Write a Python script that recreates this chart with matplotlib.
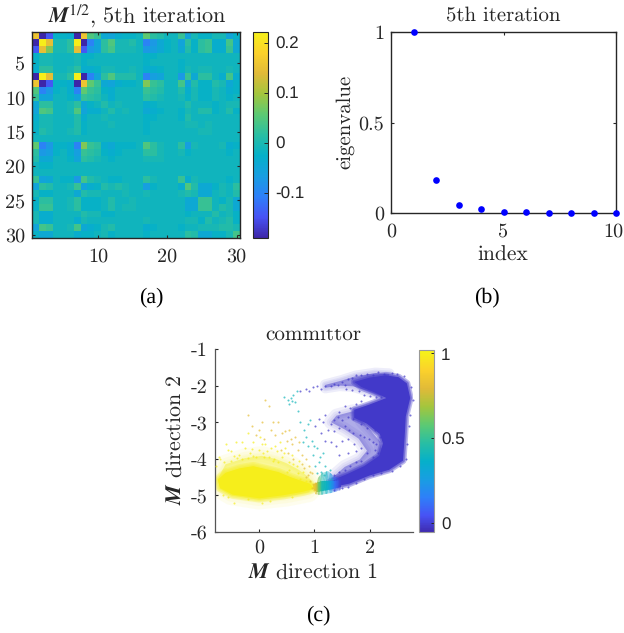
import matplotlib
matplotlib.use("Agg")
import matplotlib.pyplot as plt
import numpy as np
from matplotlib.colors import LinearSegmentedColormap, Normalize
from matplotlib.patches import Polygon
from matplotlib.transforms import Bbox, ScaledTranslation

W, H = 624, 633

plt.rcParams['font.family'] = ['cmr10', 'DejaVu Serif']
plt.rcParams['mathtext.fontset'] = 'stix'
plt.rcParams['axes.unicode_minus'] = False
plt.rcParams['text.hinting'] = 'no_hinting'
plt.rcParams['text.hinting_factor'] = 1

# upper triangle of the matrix in hundredths, one list per row
m_rows = [
    [17,-18,-13,-1,-1,-2,-18,17,6,4,-3,-4,-2,-1,-1,0,7,3,2,0,0,4,-4,1,-1,-1,1,1,-4,-1],
    [23,16,1,1,3,23,-18,-9,-4,3,6,1,1,2,0,-9,-6,-3,-1,0,-4,3,-1,3,4,-2,-2,5,-3],
    [9,1,1,3,16,-13,-6,-4,3,5,1,1,1,0,-6,-5,-3,-1,0,-3,2,-1,3,4,-2,-2,4,-3],
    [0,0,0,1,-1,-1,0,0,0,0,0,0,0,-1,-1,0,0,0,0,0,0,0,0,0,0,0,0],
    [0,0,1,-1,0,0,0,0,0,0,0,0,-1,0,0,0,0,-1,0,0,0,0,0,0,0,0],
    [1,3,-2,-2,-1,1,1,0,0,1,0,-2,-2,-1,0,0,-1,1,0,1,1,0,0,1,0],
    [23,-18,-9,-4,3,6,2,2,2,0,-9,-5,-4,0,0,-6,4,-3,3,3,0,-2,5,-2],
    [17,7,4,-3,-4,-2,-1,-1,0,9,4,3,0,0,5,-4,2,-1,-1,2,1,-3,-1],
    [4,3,-1,-2,0,0,0,0,4,3,2,0,0,2,-2,1,-1,-1,1,0,-2,-1],
    [2,0,-2,0,0,0,0,3,2,1,0,0,1,-1,1,-1,-1,1,0,-1,0],
    [2,0,1,0,0,0,-2,-1,0,0,0,0,2,0,0,0,-1,0,1,1],
    [2,0,1,0,0,-3,-2,-1,0,0,-1,1,0,2,2,-1,0,2,-1],
    [0,0,0,0,-1,-1,0,0,0,-1,2,0,0,0,0,0,0,0],
    [0,0,0,-1,0,0,0,0,0,1,1,0,1,0,0,0,0],
    [0,0,-1,0,0,0,0,0,0,0,1,1,0,0,0,0],
    [0,0,0,0,0,0,0,0,0,0,0,0,0,0,0],
    [6,3,1,0,0,3,-5,1,0,0,0,1,-2,-1],
    [3,1,0,0,1,-1,0,0,0,0,0,-1,0],
    [1,0,0,0,0,0,0,0,0,0,0,0],
    [0,0,0,0,0,0,0,0,0,0,0],
    [0,0,0,0,0,0,0,0,0,0],
    [4,-2,1,0,0,0,0,-1,0],
    [6,2,-3,-3,-1,1,0,3],
    [1,-3,-3,0,1,0,2],
    [4,4,0,-1,1,-3],
    [4,0,2,1,-3],
    [2,0,1,-1],
    [1,2,-1],
    [2,1],
    [5],
]
m_background = -0.012

index = [1, 2, 3, 4, 5, 6, 7, 8, 9, 10]
eigenvalue = [1.0, 0.18, 0.045, 0.02, 0.007, 0.003, 0.001, 0.0006, 0.0003, 0.0001]

# outlines of the solid parts of the cloud in panel c
yellow_x = [-0.74,-0.70,-0.47,0.01,0.43,0.80,1.00,0.92,0.61,0.35,0.07,-0.10,-0.35,-0.60]
yellow_y = [-4.57,-4.80,-4.98,-5.08,-5.00,-4.90,-4.82,-4.68,-4.52,-4.36,-4.26,-4.20,-4.26,-4.38]
purple_x = [1.30,1.63,1.99,2.35,2.60,2.63,2.65,2.73,2.67,2.52,2.29,2.00,1.72,1.85,2.08,2.30,1.99,1.72,1.72,1.95,2.18,2.24,2.17,1.90,1.62,1.40,1.25]
purple_y = [-4.78,-4.68,-4.46,-4.30,-4.05,-3.39,-2.84,-2.34,-1.94,-1.77,-1.72,-1.78,-1.90,-2.04,-2.18,-2.34,-2.52,-2.66,-2.88,-3.04,-3.32,-3.58,-3.92,-4.20,-4.40,-4.54,-4.66]

# thinner haze around the solid parts
haze_yellow_x = [-0.74,-0.70,-0.5,0.0,0.5,0.9,1.0,0.9,0.72,0.5,0.3,0.05,-0.25,-0.6]
haze_yellow_y = [-4.55,-4.82,-5.0,-5.12,-5.04,-4.92,-4.75,-4.5,-4.3,-4.12,-4.0,-3.92,-3.98,-4.15]
haze_lobe_x = [1.7,1.4,1.3,1.55,1.8,1.95,1.82,1.55,1.3,1.5,1.75,2.02,2.2,2.2,2.0,1.85,1.8]
haze_lobe_y = [-2.7,-2.82,-3.0,-3.2,-3.45,-3.78,-4.02,-4.22,-4.55,-4.58,-4.42,-4.22,-3.92,-3.55,-3.2,-2.95,-2.75]
haze_arc_x = [1.2,1.5,1.75,2.1,2.35,2.35,2.2,1.95,1.7,1.45,1.2]
haze_arc_y = [-1.98,-1.86,-1.74,-1.66,-1.68,-1.9,-2.28,-2.14,-2.02,-2.0,-2.06]

# loose points (x, y), grouped by committor value
sparse_yellow = [(-0.6,-3.6),(-0.5,-3.8),(-0.42,-3.55),(-0.35,-3.9),(-0.25,-3.7),(-0.2,-3.3),(-0.15,-3.85),(-0.1,-3.55),
    (-0.05,-3.95),(0.0,-3.75),(0.02,-3.4),(0.08,-3.85),(0.12,-3.6),(0.18,-3.95),(0.22,-3.7),(0.28,-4.0),(0.32,-3.8),(0.38,-3.55),
    (0.42,-3.95),(0.48,-3.7),(0.55,-4.1),(0.6,-3.9),(0.68,-4.2),(0.72,-4.05),(0.8,-4.35),(-0.7,-4.0),(-0.62,-4.1),(-0.72,-3.95),
    (-0.5,-4.05),(-0.4,-3.98),(-0.3,-4.0),(-0.2,-3.98),(-0.1,-3.92),(0.1,-3.95),(0.25,-4.05),(0.5,-4.35),(0.55,-4.3),(0.7,-4.4),
    (-0.78,-4.2),(-0.45,-5.2),(-0.2,-5.1),(0.2,-5.15),(0.6,-5.05),(-0.55,-5.05),(0.75,-4.55),(0.85,-4.6),(-0.65,-5.0),(0.05,-5.2),
    (-0.55,-3.75),(-0.3,-3.55),(-0.12,-3.72),(0.05,-3.6),(0.15,-3.78),(0.3,-3.65),(0.45,-3.85),(0.62,-4.15),(0.35,-4.1),(-0.45,-3.92)]
sparse_orange = [(-0.2,-2.8),(-0.12,-3.1),(0.0,-3.2),(0.05,-3.0),(0.12,-2.4),(0.18,-2.55),(0.22,-3.2),(0.3,-3.35),(0.35,-3.0),
    (0.42,-3.3),(0.5,-3.5),(0.55,-3.2),(0.6,-3.6),(0.65,-3.4),(0.7,-3.75),(0.78,-3.9),(0.85,-4.0),(0.9,-4.2),(0.95,-4.4),
    (0.4,-3.75),(0.52,-3.85),(0.62,-4.0),(0.82,-4.25),(0.88,-4.45),(0.92,-4.6),(0.98,-4.7),(1.0,-4.85),(0.95,-4.8),(1.02,-4.65),
    (-0.05,-3.35),(0.1,-3.45),(0.25,-3.0),(0.48,-3.25),(0.58,-3.45),(0.72,-3.55),(0.78,-4.15),(0.92,-4.35),(0.85,-4.5)]
sparse_cyan = [(0.45,-2.3),(0.52,-2.4),(0.58,-2.35),(0.62,-2.25),(0.65,-2.45),(0.7,-2.7),(0.75,-3.0),(0.82,-3.2),(0.85,-3.4),
    (0.8,-3.55),(0.88,-3.65),(0.95,-3.5),(1.05,-3.7),(1.1,-3.95),(1.08,-4.1),(0.98,-3.9),(1.15,-3.85),(1.2,-4.2),(1.12,-4.35),
    (1.05,-4.4),(1.18,-4.45),(1.28,-4.3),(1.3,-4.55),(0.92,-2.95),(0.68,-2.15),(0.55,-2.5),(0.88,-3.05),(1.0,-3.65),(1.02,-4.2),(0.6,-2.42)]
sparse_purple = [(0.75,-2.15),(0.85,-2.1),(0.9,-2.15),(0.98,-2.05),(1.05,-2.0),(1.12,-2.08),(1.2,-2.0),(1.3,-2.02),(1.35,-1.95),(1.42,-1.98),
    (1.5,-1.9),(1.55,-1.98),(1.6,-1.82),(1.68,-1.78),(1.75,-1.72),(1.85,-1.72),(1.95,-1.68),(2.05,-1.72),(2.15,-1.62),(2.25,-1.67),(2.4,-1.66),(2.5,-1.68),(2.62,-1.75),
    (1.58,-2.1),(1.68,-2.12),(1.8,-2.15),(1.9,-2.25),(2.0,-2.28),(2.12,-2.3),(2.2,-2.3),(2.25,-2.38),
    (1.5,-2.95),(1.42,-2.85),(1.35,-2.95),(1.3,-3.05),(1.2,-2.8),(1.15,-3.0),(1.08,-2.9),(1.02,-3.1),(1.25,-3.2),(1.35,-3.25),(1.45,-3.15),(1.55,-3.1),(1.62,-3.2),(1.7,-3.3),
    (1.82,-3.35),(1.9,-3.4),(1.98,-3.45),(2.05,-3.55),(2.12,-3.6),(2.1,-3.75),(2.15,-3.85),(2.05,-3.95),(1.95,-3.85),(1.85,-4.05),(1.75,-4.1),(1.65,-4.2),(1.55,-4.3),
    (1.45,-4.35),(1.35,-4.45),(1.3,-3.55),(1.4,-3.65),(1.5,-3.5),(1.6,-3.45),(1.72,-3.6),(1.85,-3.7),(1.2,-3.5),(1.12,-3.3),(1.45,-3.9),(1.6,-3.85),(1.75,-3.8),
    (1.55,-2.55),(1.65,-2.62),(1.75,-2.5),(1.85,-2.42),(1.45,-2.72),(1.6,-2.85),(1.7,-2.92),(1.85,-3.05),(1.95,-3.15),(2.1,-3.2),(2.18,-3.4),(2.22,-3.7),
    (1.35,-4.85),(1.5,-4.8),(1.6,-4.78),(1.75,-4.65),(1.9,-4.55),(2.05,-4.45),(2.2,-4.38),(2.4,-4.32),(2.55,-4.2),(2.66,-4.0),(2.68,-3.6),(2.7,-3.1),(2.72,-2.8),(2.78,-2.4),(2.75,-2.05)]

# colour change across the neck of the cloud
neck_x = [0.95, 1.03, 1.08, 1.14, 1.22, 1.30, 1.38, 1.48]
neck_q = [0.98, 0.82, 0.62, 0.45, 0.40, 0.28, 0.12, 0.0]
neck_core_x = [0.97,1.05,1.25,1.48,1.48,1.38,1.25,1.14,1.03,0.97]
neck_core_y = [-4.82,-4.9,-4.86,-4.76,-4.58,-4.62,-4.6,-4.62,-4.66,-4.72]
neck_top_x = [1.02,1.1,1.3,1.48,1.48,1.38,1.25,1.14,1.06]
neck_top_y = [-4.96,-5.0,-4.94,-4.84,-4.52,-4.5,-4.32,-4.38,-4.52]

q_yellow, q_orange, q_cyan, q_purple = 1.01, 0.82, 0.42, 0.0

cbar_a_ticks = [-0.1, 0, 0.1, 0.2]
cbar_a_labels = ['-0.1', '0', '0.1', '0.2']
cbar_c_ticks = [0, 0.5, 1]
cbar_c_labels = ['0', '0.5', '1']

# MATLAB parula, by hand
parula = LinearSegmentedColormap.from_list('parula', [
    (0.0, (0.242, 0.150, 0.660)), (0.1, (0.281, 0.323, 0.958)), (0.2, (0.179, 0.500, 0.975)),
    (0.3, (0.095, 0.620, 0.885)), (0.4, (0.020, 0.690, 0.790)), (0.5, (0.160, 0.745, 0.640)),
    (0.6, (0.360, 0.790, 0.450)), (0.7, (0.640, 0.775, 0.240)), (0.8, (0.880, 0.730, 0.220)),
    (0.9, (0.985, 0.820, 0.170)), (1.0, (0.965, 0.945, 0.100))], N=256)

AX = '#262626'


def pax(x0, y0, x1, y1):
    # axes from pixel box, y measured from the top
    return fig.add_axes([x0 / W, 1 - y1 / H, (x1 - x0) / W, (y1 - y0) / H])


def ptext(x, y, s, **kw):
    return fig.text(x / W, 1 - y / H, s, ha=kw.pop('ha', 'center'), va=kw.pop('va', 'center'), color=kw.pop('color', AX), **kw)


def style_cbar(cax, ticks, labels):
    cax.set_xticks([])
    cax.yaxis.tick_right()
    cax.set_yticks(ticks)
    cax.set_yticklabels(labels)
    cax.tick_params(axis='y', direction='in', length=3, width=0.7, color=AX, pad=5, labelcolor=AX, labelsize=12.5)
    for lab in cax.get_yticklabels():
        lab.set_fontfamily(['Liberation Sans'])
    for s in cax.spines.values():
        s.set_linewidth(0.8)
        s.set_color(AX)


def soft(ax, xs, ys, color, face, widths, edge_alpha, z):
    # polygon with a fading rim, stands in for the thinning point cloud
    ax.fill(xs, ys, facecolor=color, edgecolor='none', alpha=face, zorder=z)
    for lw in widths:
        ax.fill(xs, ys, facecolor='none', edgecolor=color, alpha=edge_alpha, lw=lw, joinstyle='round', zorder=z)


fig = plt.figure(figsize=(W / 100, H / 100), dpi=100)

# (a) matrix
M = np.zeros((30, 30))
for i, row in enumerate(m_rows):
    M[i, i:] = np.array(row) / 100
    M[i:, i] = np.array(row) / 100
M = M + m_background

ax = pax(32, 32, 240, 238)
norm_a = Normalize(-0.19, 0.222)
im = ax.imshow(M, cmap=parula, norm=norm_a, aspect='auto', interpolation='nearest',
               extent=(0.5, 30.5, 30.5, 0.5))
ax.set_xticks([10, 20, 30])
ax.set_yticks([5, 10, 15, 20, 25, 30])
ax.set_xticklabels(['10', '20', '30'])
ax.set_yticklabels(['5', '10', '15', '20', '25', '30'])
ax.tick_params(direction='in', length=2.5, width=0.8, top=True, right=True, labelsize=14.5, colors=AX, pad=5)
ax.tick_params(axis='x', pad=7)
for s in ax.spines.values():
    s.set_linewidth(1.0)
    s.set_color(AX)
ptext(137, 16, r'$\mathbfit{M}^{1/2}$, 5th iteration', fontsize=16)
ptext(151, 297, '(a)', family='Liberation Serif', fontsize=16, color='black')

cax = pax(253, 32, 268, 238)
fig.colorbar(im, cax=cax)
style_cbar(cax, cbar_a_ticks, cbar_a_labels)

# (b) eigenvalues
ax = pax(391, 32, 616, 213)
ax.plot(index, eigenvalue, 'o', color=(0, 0, 1), ms=4.8, mew=0, clip_on=False, zorder=5)
ax.set_xlim(0, 10)
ax.set_ylim(0, 1)
ax.set_xticks([0, 5, 10])
ax.set_xticklabels(['0', '5', '10'])
ax.set_yticks([0, 0.5, 1])
ax.set_yticklabels(['0', '0.5', '1'])
ax.tick_params(direction='in', length=2.5, width=0.8, top=True, right=True, labelsize=14.5, colors=AX, pad=5)
ax.tick_params(axis='x', pad=7)
# keep the last label inside the picture
last = ax.get_xticklabels()[-1]
last.set_transform(last.get_transform() + ScaledTranslation(-3 / 100, 0, fig.dpi_scale_trans))
for s in ax.spines.values():
    s.set_linewidth(1.0)
    s.set_color(AX)
ptext(503, 15, '5th iteration', fontsize=15)
ptext(503, 255, 'index', fontsize=15.5)
ptext(345, 122, 'eigenvalue', fontsize=15, rotation=90)
ptext(487, 297, '(b)', family='Liberation Serif', fontsize=16, color='black')

# (c) committor cloud
ax = pax(215, 349, 413, 532)
norm_c = Normalize(-0.05, 1.02)
c_y, c_p = parula(norm_c(q_yellow)), parula(norm_c(q_purple))
soft(ax, haze_yellow_x, haze_yellow_y, c_y, 0.4, [14, 9, 5, 3], 0.07, 1)
soft(ax, haze_lobe_x, haze_lobe_y, c_p, 0.42, [10, 6, 3], 0.08, 1)
soft(ax, haze_arc_x, haze_arc_y, c_p, 0.45, [8, 5, 3], 0.09, 1)
soft(ax, yellow_x, yellow_y, c_y, 1.0, [6, 4, 2], 0.28, 2)
soft(ax, purple_x, purple_y, c_p, 1.0, [5, 3, 2], 0.35, 2)

for ox, oy, a in [(neck_top_x, neck_top_y, 0.38), (neck_core_x, neck_core_y, 0.95)]:
    neck = ax.pcolormesh(neck_x, [-5.05, -4.3], [neck_q, neck_q], cmap=parula, norm=norm_c,
                         shading='gouraud', alpha=a, zorder=3)
    neck.set_clip_path(Polygon(np.column_stack([ox, oy]), transform=ax.transData))

for pts, q in [(sparse_yellow, q_yellow), (sparse_orange, q_orange), (sparse_cyan, q_cyan), (sparse_purple, q_purple)]:
    xs, ys = zip(*pts)
    ax.scatter(xs, ys, s=2.2, color=parula(norm_c(q)), alpha=0.7, linewidths=0, zorder=4, clip_on=False)

ax.set_xlim(-0.79, 2.78)
ax.set_ylim(-6, -1)
ax.set_xticks([0, 1, 2])
ax.set_xticklabels(['0', '1', '2'])
ax.set_yticks([-6, -5, -4, -3, -2, -1])
ax.set_yticklabels(['-6', '-5', '-4', '-3', '-2', '-1'])
ax.tick_params(direction='in', length=2.5, width=0.8, labelsize=14.5, colors=AX, pad=5)
ax.spines['top'].set_visible(False)
ax.spines['right'].set_visible(False)
for k in ['left', 'bottom']:
    ax.spines[k].set_linewidth(0.9)
    ax.spines[k].set_color('#555555')
t = ptext(313, 334, 'committor', fontsize=15.2)
t.set_clip_box(Bbox([[0, 0], [W, H - 329]]))
t.set_clip_on(True)
ptext(313, 573, r'$\mathbfit{M}$ direction 1', fontsize=15.8)
ptext(176, 440, r'$\mathbfit{M}$ direction 2', fontsize=15.8, rotation=90)
ptext(318, 615, '(c)', family='Liberation Serif', fontsize=16, color='black')

cax = pax(419, 350, 434, 532)
cb = fig.colorbar(plt.cm.ScalarMappable(norm=norm_c, cmap=parula), cax=cax)
cb.solids.set_edgecolor('face')
style_cbar(cax, cbar_c_ticks, cbar_c_labels)
cax.spines['left'].set_visible(False)
cax.tick_params(axis='y', length=2)
for s in cax.spines.values():
    s.set_color('#999999')

fig.savefig('out.png', dpi=100)
